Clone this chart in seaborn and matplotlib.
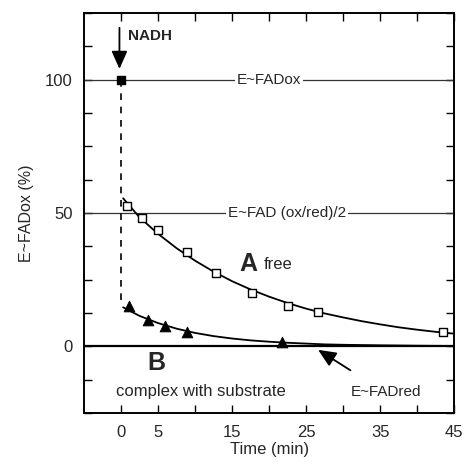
import matplotlib
matplotlib.use("Agg")
import matplotlib.pyplot as plt
import numpy as np
import pandas as pd
import seaborn as sns

# Measured points: curve A (enzyme free), open squares
free_time = [0.8, 2.9, 5.0, 8.9, 12.8, 17.7, 22.6, 26.6, 43.5]
free_ox = [52.6, 48.2, 43.5, 35.5, 27.6, 19.8, 15.0, 12.9, 5.4]

# Measured points: curve B (complex with substrate), filled triangles
complex_time = [1.1, 3.7, 6.0, 8.9, 21.7]
complex_ox = [15.0, 9.7, 7.5, 5.3, 1.6]

# Fitted curves
fit_time = [0.3, 2.5, 5, 7.5, 10, 12.5, 15, 17.5, 20, 22.5, 25, 27.5, 30, 32.5, 35, 37.5, 40, 42.5, 45]
fit_free = [55.5, 48.4, 42.2, 36.8, 32.1, 28.0, 24.4, 21.3, 18.6, 16.2, 14.1, 12.3, 10.8, 9.4, 8.2, 7.1, 6.2, 5.4, 4.7]
fit_complex = [14.6, 11.4, 8.7, 6.6, 5.0, 3.8, 2.9, 2.2, 1.7, 1.3, 1.0, 0.7, 0.55, 0.45, 0.35, 0.28, 0.2, 0.15, 0.1]

# Starting oxidized enzyme and the drop after NADH addition
start_time = [0.0]
start_ox = [100.0]
drop_time = [0.0, 0.0]
drop_ox = [100.0, 15.0]

x_ticks = [0, 5, 10, 15, 20, 25, 30, 35, 40, 45]
x_labels = ["0", "5", "", "15", "", "25", "", "35", "", "45"]
y_major = [0, 50, 100]

free_df = pd.DataFrame({"time": free_time, "ox": free_ox})
complex_df = pd.DataFrame({"time": complex_time, "ox": complex_ox})
fit_df = pd.DataFrame({"time": fit_time, "free": fit_free, "complex": fit_complex})

sns.set_theme(style="ticks")
plt.rcParams["font.family"] = ["Liberation Sans", "DejaVu Sans"]

fig = plt.figure(figsize=(4.66, 4.66), dpi=100)
ax = fig.add_axes([0.180, 0.114, 0.795, 0.858])

# Reference levels
ax.axhline(100, color="#333333", linewidth=0.9, zorder=1)
ax.axhline(50, color="#333333", linewidth=0.9, zorder=1)
ax.axhline(0, color="black", linewidth=1.6, zorder=1)

# Dashed drop at NADH addition
ax.plot(drop_time, drop_ox, color="black", linestyle=(0, (4, 4)), linewidth=1.2, zorder=2)

# Fitted curves
sns.lineplot(data=fit_df, x="time", y="free", color="black", linewidth=1.3, ax=ax, zorder=3)
sns.lineplot(data=fit_df, x="time", y="complex", color="black", linewidth=1.3, ax=ax, zorder=3)

# Data points
sns.scatterplot(data=free_df, x="time", y="ox", marker="s", s=40, facecolor="white",
                edgecolor="black", linewidth=1.0, ax=ax, zorder=4)
sns.scatterplot(data=complex_df, x="time", y="ox", marker="^", s=60, color="black",
                edgecolor="black", ax=ax, zorder=4)
ax.scatter(start_time, start_ox, marker="s", s=40, color="black", zorder=4)

ax.set_xlim(-5, 45)
ax.set_ylim(-25, 125)
ax.set_xticks(x_ticks)
ax.set_xticklabels(x_labels)
ax.set_yticks(y_major)
ax.set_yticks(np.arange(-25, 126, 12.5), minor=True)
ax.tick_params(axis="both", which="both", direction="in", top=True, right=True,
               labelsize=12, color="black")
ax.tick_params(axis="both", which="major", length=6, width=1)
ax.tick_params(axis="y", which="minor", length=6, width=1)
ax.tick_params(axis="x", pad=9)
ax.tick_params(axis="y", pad=8)
for spine in ax.spines.values():
    spine.set_linewidth(1.4)
    spine.set_color("black")

ax.set_xlabel("Time (min)", fontsize=12, labelpad=1)
ax.set_ylabel("E~FADox (%)", fontsize=11.5, labelpad=8)

# Annotations
box = dict(facecolor="white", edgecolor="none", pad=1.5)
ax.text(20, 100, "E~FADox", ha="center", va="center", fontsize=11, bbox=box, zorder=2)
ax.text(22.4, 50, "E~FAD (ox/red)/2", ha="center", va="center", fontsize=11, bbox=box, zorder=2)
ax.text(1.0, 116.5, "NADH", ha="left", va="center", fontsize=11, fontweight="bold")
ax.annotate("", xy=(-0.2, 103), xytext=(-0.2, 120.5),
            arrowprops=dict(arrowstyle="-|>,head_length=0.9,head_width=0.4", color="black", lw=1.3))
ax.text(16.0, 30.8, "A", ha="left", va="center", fontsize=18, fontweight="bold")
ax.text(19.3, 30.8, "free", ha="left", va="center", fontsize=12)
ax.text(4.8, -6.4, "B", ha="center", va="center", fontsize=18, fontweight="bold")
ax.text(10.8, -17, "complex with substrate", ha="center", va="center", fontsize=12)
ax.text(31.0, -17, "E~FADred", ha="left", va="center", fontsize=11)
ax.annotate("", xy=(26.3, -0.8), xytext=(31.3, -9.6),
            arrowprops=dict(arrowstyle="-|>,head_length=0.9,head_width=0.4", color="black", lw=1.3))

fig.savefig("out.png", dpi=100)
